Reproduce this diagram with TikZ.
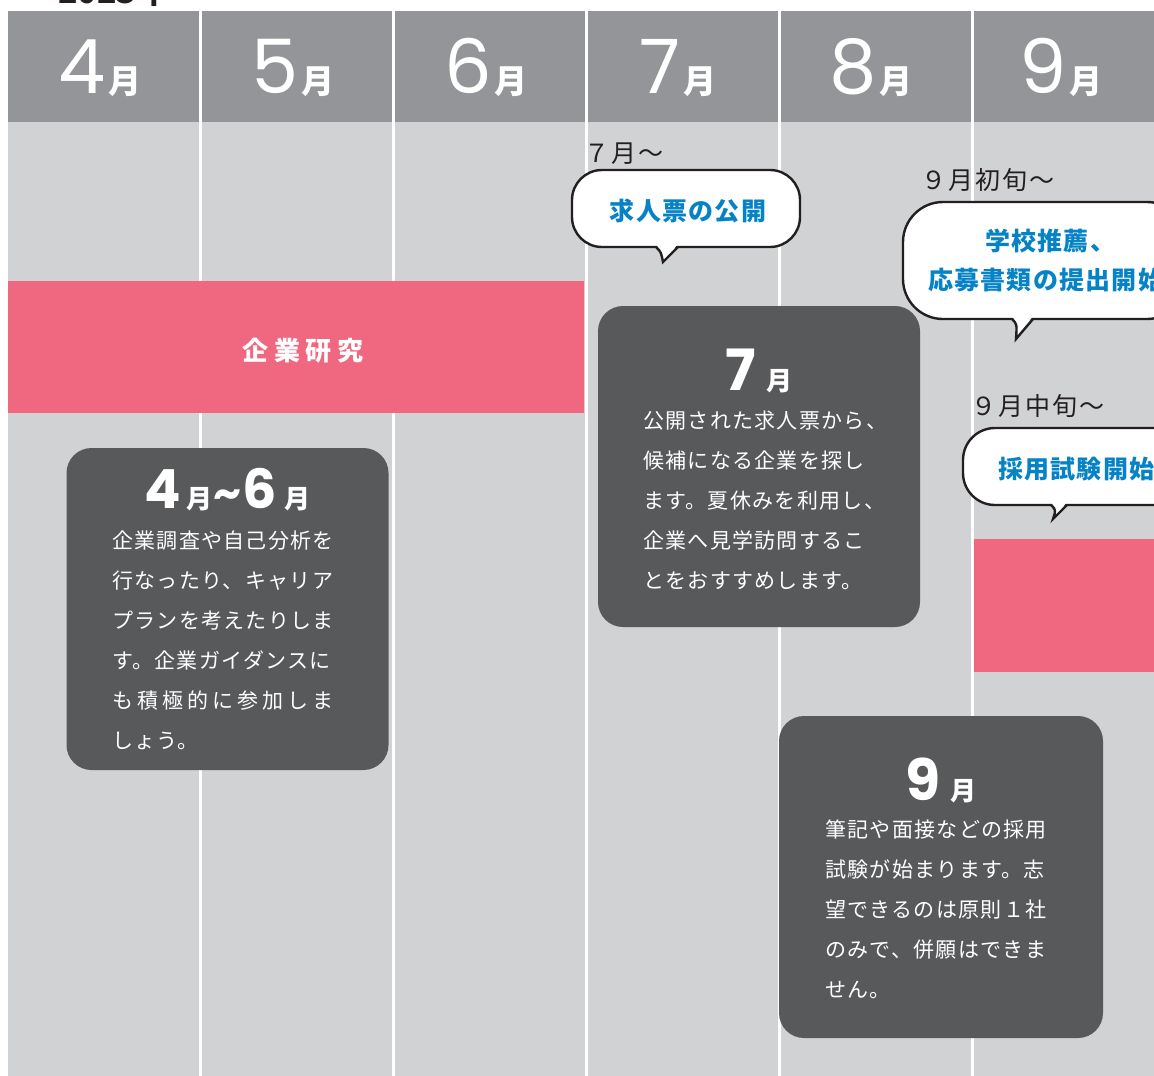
\documentclass[tikz,border=0pt]{standalone}
\usepackage{fontspec}
\usetikzlibrary{calc}
\newfontfamily\jp{Noto Sans CJK JP}
\newfontfamily\jpbody[LetterSpace=6.2]{Noto Sans CJK JP}
\newfontfamily\jpbodyw[LetterSpace=19.5]{Noto Sans CJK JP}
\newfontfamily\jplab[LetterSpace=8]{Noto Sans CJK JP}
\newfontfamily\jpblue[LetterSpace=5]{Noto Sans CJK JP}
\newfontfamily\jpwide[LetterSpace=22]{Noto Sans CJK JP}
\newfontfamily\dig{Poppins}
\definecolor{hdrgray}{HTML}{939598}
\definecolor{colgray}{HTML}{D1D2D4}
\definecolor{darkbox}{HTML}{58595B}
\definecolor{pinkbar}{HTML}{F06780}
\definecolor{bluetxt}{HTML}{0683C6}
\definecolor{ink}{HTML}{231F20}
\newcommand\hdrlab[1]{{\dig\fontsize{75}{75}\selectfont #1}\hspace{3pt}{\jp\bfseries\fontsize{33}{33}\selectfont 月}}
\newcommand\ttlnum[2]{{\dig\bfseries\fontsize{#2}{#2}\selectfont #1}}
\newcommand\ttlmon[1]{{\jp\bfseries\fontsize{#1}{#1}\selectfont 月}}
\newcommand\bubtail[5]{%
  \fill[white] (#1,#3-3) .. controls (#1+5,#3+5) .. (#4,#5) -- (#2,#3-3) -- cycle;
  \draw[tailline] (#1,#3) .. controls (#1+5,#3+5) .. (#4,#5) -- (#2,#3);}
\tikzset{
  hdr/.style={anchor=base, inner sep=0pt, text=white},
  body/.style={anchor=base west, inner sep=0pt, text=white, font=\jpbody\fontsize{21}{24}\selectfont},
  bodyw/.style={anchor=base west, inner sep=0pt, text=white, font=\jpbodyw\fontsize{21}{24}\selectfont},
  dbox/.style={fill=darkbox, rounded corners=25pt, inner sep=0pt, minimum width=#1},
  pinkrect/.style={fill=pinkbar, inner sep=0pt},
  bubble/.style={draw=ink, line width=2.4pt, fill=white, inner sep=0pt},
  tailline/.style={draw=ink, line width=2.4pt, line join=miter},
  bluet/.style={anchor=base, inner sep=0pt, text=bluetxt, font=\jpblue\bfseries\fontsize{25}{25}\selectfont},
  lab/.style={anchor=base west, inner sep=0pt, text=ink, font=\jplab\fontsize{25}{25}\selectfont},
  sep/.style={draw=white, line width=3pt},
  ttl/.style={anchor=base, inner sep=0pt, text=white}
}
\begin{document}
\begin{tikzpicture}[x=1pt,y=-1pt]
\useasboundingbox (0,0) rectangle (1154,1076);
\fill[white] (0,0) rectangle (1154,1076);
% year (cut off at top)
\node[anchor=base west, inner sep=0pt, text=ink, font=\jp\bfseries\fontsize{32}{32}\selectfont] (year) at (58,4) {2023年};
% columns
\fill[colgray] (8,11) rectangle (1154,1076);
\fill[hdrgray] (8,11) rectangle (1154,122);
\foreach \sx [count=\i] in {200.5,393.5,586.5,779.5,972.5}
  \coordinate (sa\i) at (\sx,11);
\foreach \sx [count=\i] in {200.5,393.5,586.5,779.5,972.5}
  \coordinate (sb\i) at (\sx,1076);
\foreach \i in {1,...,5} \draw[sep] (sa\i) -- (sb\i);
% header labels
\node[hdr] (h4) at (100,93) {\hdrlab{4}};
\node[hdr] (h5) at (293,93) {\hdrlab{5}};
\node[hdr] (h6) at (486,93) {\hdrlab{6}};
\node[hdr] (h7) at (678,93) {\hdrlab{7}};
\node[hdr] (h8) at (871,93) {\hdrlab{8}};
\node[hdr] (h9) at (1061,93) {\hdrlab{9}};
% pink bars
\node[pinkrect, minimum width=576pt, minimum height=132pt] (pink1) at (296,347) {};
\node[anchor=base, inner sep=0pt, text=white, font=\jpwide\bfseries\fontsize{26}{26}\selectfont] (kenkyu) at (303,360) {企業研究};
\node[pinkrect, minimum width=200pt, minimum height=133pt] (pink2) at (1074,605.5) {};
% dark box 1
\node[dbox=322pt, minimum height=322pt] (box1) at (227.5,609) {};
\node[ttl] (t1) at (227.5,508) {\ttlnum{4}{54}\hspace{6pt}\ttlmon{26}\hspace{1pt}\ttlnum{\char`\~}{44}\hspace{1pt}\ttlnum{6}{54}\hspace{8pt}\ttlmon{26}};
\foreach \t [count=\i] in {企業調査や自己分析を,行なったり、キャリア,プランを考えたりしま,す。企業ガイダンスに}
  \node[body] (ba\i) at (112,548+40*\i-40) {\t};
\node[bodyw] (ba5) at (112,708) {も積極的に参加しま};
\node[body] (ba6) at (112,748) {しょう。};
% dark box 2
\node[dbox=322pt, minimum height=321pt] (box2) at (759,466.5) {};
\node[ttl] (t2) at (759,390) {\ttlnum{7}{57}\hspace{10pt}\ttlmon{26}};
\foreach \t [count=\i] in {公開された求人票から、,候補になる企業を探し,ます。夏休みを利用し、,企業へ見学訪問するこ,とをおすすめします。}
  \node[body] (bb\i) at (643,428+40*\i-40) {\t};
% dark box 3
\node[dbox=324pt, minimum height=322pt] (box3) at (941,877) {};
\node[ttl] (t3) at (941,800) {\ttlnum{9}{57}\hspace{10pt}\ttlmon{26}};
\foreach \t [count=\i] in {筆記や面接などの採用,試験が始まります。志,望できるのは原則１社,のみで、併願はできま,せん。}
  \node[body] (bc\i) at (825,837+40*\i-40) {\t};
% bubble 1
\node[lab] (l1) at (584,162) {７月～};
\node[bubble, rounded corners=30pt, minimum width=228pt, minimum height=77pt] (bub1) at (686,208.5) {};
\bubtail{656}{678}{247}{663}{262}
\node[bluet] (q1) at (688,220) {求人票の公開};
% bubble 2
\node[lab] (l2) at (921,189) {９月初旬～};
\node[bubble, rounded corners=40pt, minimum width=284pt, minimum height=117pt] (bub2) at (1045,260.5) {};
\bubtail{1012}{1033}{319}{1016}{339}
\node[bluet] (q2a) at (1050,250) {学校推薦、};
\node[bluet, anchor=base west] (q2b) at (928,289) {応募書類の提出開始};
% bubble 3
\node[lab] (l3) at (971,415) {９月中旬～};
\node[bubble, rounded corners=32pt, minimum width=226pt, minimum height=77pt] (bub3) at (1076,466.5) {};
\bubtail{1051}{1067}{505}{1053}{519}
\node[bluet, anchor=base west] (q3) at (998,478) {採用試験開始};
\end{tikzpicture}
\end{document}
